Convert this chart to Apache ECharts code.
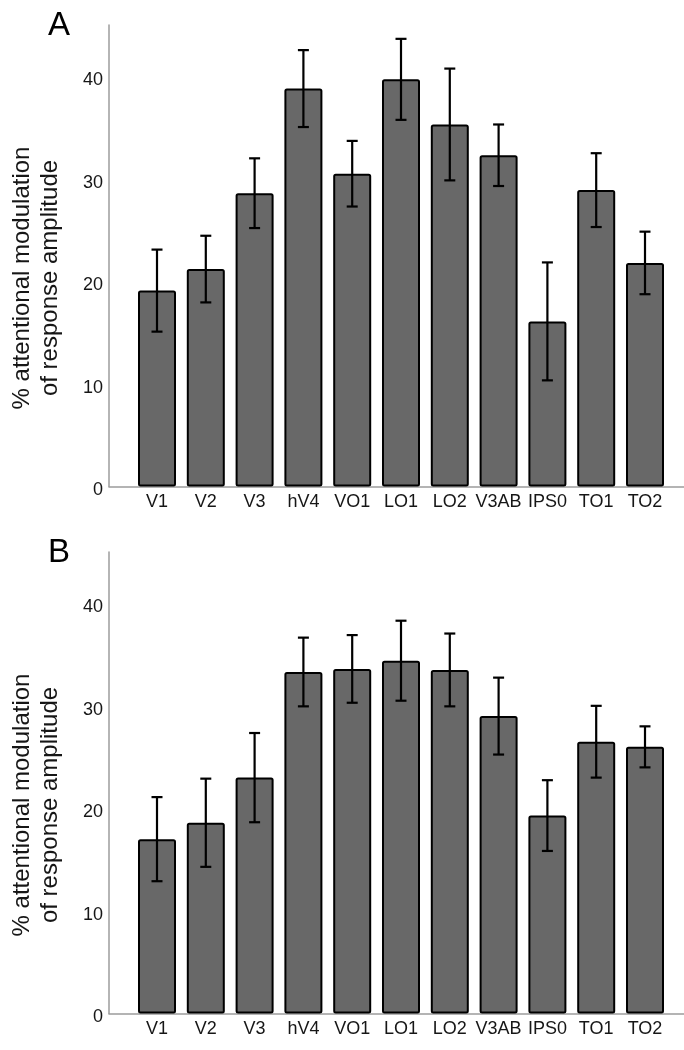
<!DOCTYPE html>
<html>
<head>
<meta charset="utf-8">
<script src="https://cdn.jsdelivr.net/npm/echarts@6/dist/echarts.min.js"></script>
<style>
html,body{margin:0;padding:0;background:#fff;}
#chart{width:684px;height:1050px;}
</style>
</head>
<body>
<div id="chart"></div>
<script>
const categories = ['V1','V2','V3','hV4','VO1','LO1','LO2','V3AB','IPS0','TO1','TO2'];
const valuesA = [19.1, 21.2, 28.6, 38.8, 30.5, 39.7, 35.3, 32.3, 16.1, 28.9, 21.8];
const errorsA = [4.0, 3.25, 3.4, 3.75, 3.2, 3.95, 5.45, 3.0, 5.75, 3.6, 3.05];
const valuesB = [17.0, 18.6, 23.0, 33.3, 33.6, 34.4, 33.5, 29.0, 19.3, 26.5, 26.0];
const errorsB = [4.1, 4.3, 4.35, 3.35, 3.3, 3.9, 3.55, 3.75, 3.45, 3.5, 2.0];
const yMin = 0, yMax = 45, yInterval = 10;
const panelLabels = ['A', 'B'];
const yTitle = '% attentional modulation\nof response amplitude';

const FONT = '"Liberation Sans", Arial, Helvetica, sans-serif';
const AXIS_GREY = '#9c9c9c';
const BAR_FILL = '#686868';
const TEXT = '#161616';

const chart = echarts.init(document.getElementById('chart'), null, {renderer: 'canvas'});

const panelTops = [25, 552];
const plotH = 461.5;

function errData(vals, errs) {
  return vals.map((v, i) => [i, v - errs[i], v + errs[i]]);
}
function errRender(params, api) {
  const lo = api.coord([api.value(0), api.value(1)]);
  const hi = api.coord([api.value(0), api.value(2)]);
  const x = lo[0], hw = 5.5;
  const st = {stroke: '#000', lineWidth: 2.2};
  return {
    type: 'group',
    children: [
      {type: 'line', shape: {x1: x, y1: lo[1], x2: x, y2: hi[1]}, style: st},
      {type: 'line', shape: {x1: x - hw, y1: lo[1], x2: x + hw, y2: lo[1]}, style: st},
      {type: 'line', shape: {x1: x - hw, y1: hi[1], x2: x + hw, y2: hi[1]}, style: st}
    ]
  };
}

const grids = [], xAxes = [], yAxes = [], series = [], graphics = [];
[[valuesA, errorsA], [valuesB, errorsB]].forEach((pair, p) => {
  const top = panelTops[p];
  const gFull = grids.length, gBar = grids.length + 1;
  grids.push({left: 109, right: 0, top: top, height: plotH});
  grids.push({left: 132.6, right: 14.6, top: top, height: plotH});
  xAxes.push({gridIndex: gFull, type: 'value', min: 0, max: 1,
    axisLine: {show: true, lineStyle: {color: AXIS_GREY, width: 1.5}},
    axisTick: {show: false}, axisLabel: {show: false}, splitLine: {show: false}});
  xAxes.push({gridIndex: gBar, type: 'category', data: categories,
    axisLine: {show: false}, axisTick: {show: false}, splitLine: {show: false},
    axisLabel: {interval: 0, margin: 7, fontSize: 18, color: TEXT, fontFamily: FONT}});
  yAxes.push({gridIndex: gFull, type: 'value', min: yMin, max: yMax, interval: yInterval,
    axisLine: {show: true, lineStyle: {color: AXIS_GREY, width: 1.5}},
    axisTick: {show: false}, splitLine: {show: false},
    axisLabel: {margin: 6, fontSize: 18, color: TEXT, fontFamily: FONT, showMaxLabel: false,
      verticalAlign: 'top', lineHeight: 8,
      formatter: v => (v % yInterval === 0 ? String(v) : '')}});
  yAxes.push({gridIndex: gBar, type: 'value', min: yMin, max: yMax, show: false});
  series.push({type: 'bar', xAxisIndex: gBar, yAxisIndex: gBar, data: pair[0],
    barWidth: 38, itemStyle: {color: BAR_FILL, borderColor: '#000', borderWidth: 2, borderRadius: 1.5},
    silent: true, animation: false});
  series.push({type: 'custom', xAxisIndex: gBar, yAxisIndex: gBar, data: errData(pair[0], pair[1]),
    renderItem: errRender, silent: true, animation: false, z: 5});
  graphics.push({type: 'text', left: 48, top: top - 16,
    style: {text: panelLabels[p], font: '33px ' + FONT, fill: '#000'}});
  graphics.push({type: 'text', x: 36, y: top + 253, rotation: Math.PI / 2,
    style: {text: yTitle, font: '24px ' + FONT, fill: TEXT, align: 'center', verticalAlign: 'middle', lineHeight: 28}});
});

chart.setOption({
  animation: false,
  backgroundColor: '#fff',
  grid: grids,
  xAxis: xAxes,
  yAxis: yAxes,
  series: series,
  graphic: graphics
});
</script>
</body>
</html>
